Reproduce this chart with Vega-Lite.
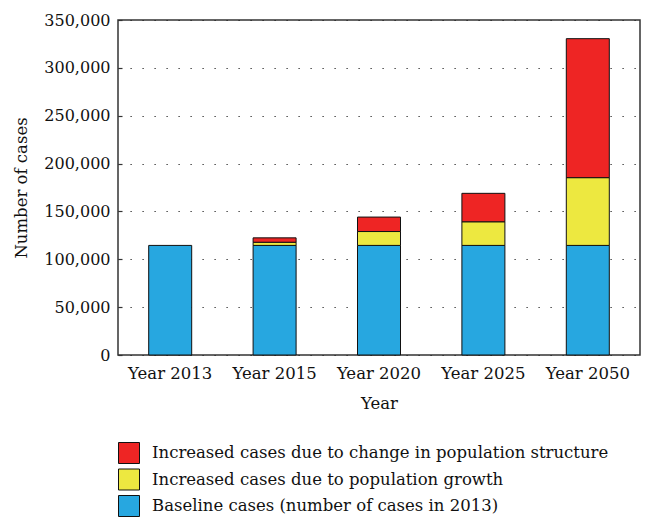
{
  "$schema": "https://vega.github.io/schema/vega-lite/v6.json",
  "autosize": {"type": "none"},
  "width": 522,
  "height": 335,
  "padding": {"left": 118, "top": 20, "right": 10, "bottom": 163},
  "config": {
    "font": "DejaVu Serif",
    "view": {"stroke": "#333333", "strokeWidth": 1.5},
    "axis": {"labelFont": "DejaVu Serif", "titleFont": "DejaVu Serif", "labelColor": "#111", "titleColor": "#111", "titleFontWeight": "normal"},
    "legend": {"labelFont": "DejaVu Serif"}
  },
  "data": {
    "values": [
      {"year": "Year 2013", "category": "Baseline cases (number of cases in 2013)", "cases": 114500},
      {"year": "Year 2015", "category": "Baseline cases (number of cases in 2013)", "cases": 114500},
      {"year": "Year 2015", "category": "Increased cases due to population growth", "cases": 3300},
      {"year": "Year 2015", "category": "Increased cases due to change in population structure", "cases": 4600},
      {"year": "Year 2020", "category": "Baseline cases (number of cases in 2013)", "cases": 114500},
      {"year": "Year 2020", "category": "Increased cases due to population growth", "cases": 14500},
      {"year": "Year 2020", "category": "Increased cases due to change in population structure", "cases": 15100},
      {"year": "Year 2025", "category": "Baseline cases (number of cases in 2013)", "cases": 114500},
      {"year": "Year 2025", "category": "Increased cases due to population growth", "cases": 24700},
      {"year": "Year 2025", "category": "Increased cases due to change in population structure", "cases": 29700},
      {"year": "Year 2050", "category": "Baseline cases (number of cases in 2013)", "cases": 114500},
      {"year": "Year 2050", "category": "Increased cases due to population growth", "cases": 70800},
      {"year": "Year 2050", "category": "Increased cases due to change in population structure", "cases": 145200}
    ]
  },
  "transform": [
    {"calculate": "indexof(['Baseline cases (number of cases in 2013)','Increased cases due to population growth','Increased cases due to change in population structure'], datum.category)", "as": "stackIdx"}
  ],
  "mark": {"type": "bar", "stroke": "#111111", "strokeWidth": 1, "size": 43},
  "encoding": {
    "x": {
      "field": "year", "type": "nominal",
      "axis": {"title": "Year", "labelAngle": 0, "labelFontSize": 16.5, "titleFontSize": 16.5, "domain": false, "ticks": false, "labelPadding": 10, "titlePadding": 14}
    },
    "y": {
      "field": "cases", "type": "quantitative", "stack": "zero",
      "scale": {"domain": [0, 350000], "nice": false},
      "axis": {"title": "Number of cases", "values": [0, 50000, 100000, 150000, 200000, 250000, 300000, 350000], "format": ",d", "labelFontSize": 16, "titleFontSize": 16.5, "domain": false, "tickSize": -4, "tickColor": "#333", "tickWidth": 1.2, "labelPadding": 12, "titlePadding": 14,
        "grid": true, "gridColor": "#222", "gridDash": [1.2, 10.8], "gridWidth": 1.2}
    },
    "color": {
      "field": "category", "type": "nominal",
      "scale": {
        "domain": ["Increased cases due to change in population structure", "Increased cases due to population growth", "Baseline cases (number of cases in 2013)"],
        "range": ["#EE2524", "#EDE840", "#27A7E0"]
      },
      "legend": {"title": null, "orient": "none", "legendX": 0, "legendY": 422, "symbolType": "square", "symbolSize": 441, "symbolStrokeColor": "#111", "symbolStrokeWidth": 1, "labelFontSize": 16.5, "labelColor": "#111", "labelOffset": 12, "rowPadding": 0.5, "labelLimit": 600}
    },
    "order": {"field": "stackIdx", "type": "quantitative", "sort": "ascending"}
  }
}
